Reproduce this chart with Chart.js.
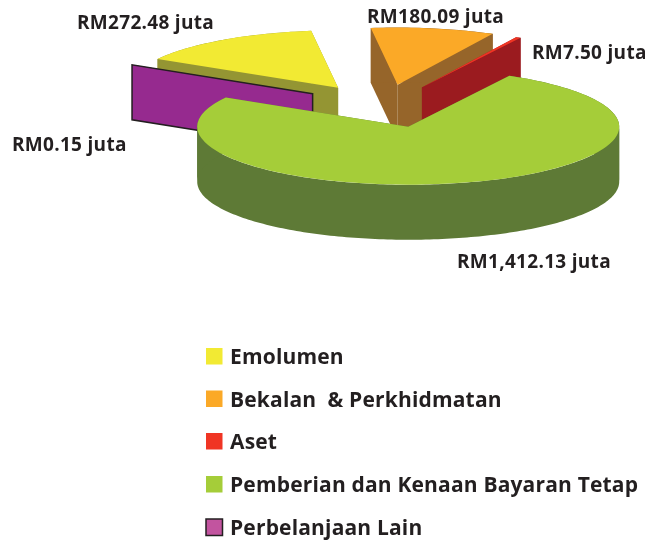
<!DOCTYPE html>
<html><head><meta charset="utf-8">
<script src="https://cdn.jsdelivr.net/npm/chart.js@4/dist/chart.umd.js"></script>
<style>html,body{margin:0;padding:0;background:#fff}canvas{display:block}</style>
</head><body>
<canvas id="c" width="645" height="545"></canvas>
<script>
const categories = ['Emolumen','Bekalan  & Perkhidmatan','Aset','Pemberian dan Kenaan Bayaran Tetap','Perbelanjaan Lain'];
const values = [272.48,180.09,7.50,1412.13,0.15];
const topColors = ['#f2ea33','#fba927','#f03524','#a5cd39','#c2549f'];
const wallColors = ['#949533','#96652a','#9b1b1f','#5e7a36','#962a8f'];
const ink = '#231f20';
const fmt = v => 'RM' + v.toLocaleString('en-US',{minimumFractionDigits:2,maximumFractionDigits:2}) + ' juta';

const squash = 0.275, depth = 55;
const explodeX = [82,82,82,92,82], explodeY = [75,75,72,82,82], sizeScale = [.99,.985,.975,1,.99];
const paintOrder = [0,1,4,2,3];
const labelAnchors = [[77,29],[367,23],[532,59],[457,268],[12,151]];

const pie3d = {
  id:'pie3d',
  beforeDatasetsDraw(chart){
    const ctx = chart.ctx, arcs = chart.getDatasetMeta(0).data;
    const quad = (p,q) => {
      ctx.beginPath();
      ctx.moveTo(p[0],p[1]); ctx.lineTo(q[0],q[1]);
      ctx.lineTo(q[0],q[1]+depth); ctx.lineTo(p[0],p[1]+depth);
      ctx.closePath(); ctx.fill();
    };
    const band = seg => {
      ctx.beginPath();
      seg.forEach((p,k)=>k?ctx.lineTo(p[0],p[1]):ctx.moveTo(p[0],p[1]));
      for (let k=seg.length-1;k>=0;k--) ctx.lineTo(seg[k][0],seg[k][1]+depth);
      ctx.closePath(); ctx.fill();
    };
    for (const i of paintOrder){
      const a = arcs[i], s = sizeScale[i], r = a.outerRadius*s;
      const mid = (a.startAngle + a.endAngle)/2;
      const ox = a.x + Math.cos(mid)*explodeX[i], oy = a.y + Math.sin(mid)*explodeY[i]*squash;
      const rim = [];
      const n = Math.max(1, Math.ceil((a.endAngle-a.startAngle)/0.02));
      for (let k=0;k<=n;k++){
        const t = a.startAngle + (a.endAngle-a.startAngle)*k/n;
        rim.push([ox+Math.cos(t)*r, oy+Math.sin(t)*r*squash]);
      }
      ctx.save();
      ctx.fillStyle = wallColors[i];
      quad([ox,oy],rim[0]);
      quad([ox,oy],rim[n]);
      // the rim band is cut wherever it turns back in x, so each piece is a simple shape
      let seg = [rim[0]], dir = 0;
      for (let k=1;k<=n;k++){
        const d = Math.sign(rim[k][0]-rim[k-1][0]);
        if (dir && d && d!==dir){ band(seg); seg=[rim[k-1]]; }
        if (d) dir = d;
        seg.push(rim[k]);
      }
      band(seg);
      if (i===4){
        const e = rim[0];
        ctx.strokeStyle = ink; ctx.lineWidth = 1.5;
        ctx.beginPath();
        ctx.moveTo(ox,oy); ctx.lineTo(e[0],e[1]); ctx.lineTo(e[0],e[1]+depth); ctx.lineTo(ox,oy+depth);
        ctx.closePath(); ctx.stroke();
      }
      ctx.restore();
      ctx.save();
      ctx.translate(ox,oy); ctx.scale(s,squash*s); ctx.translate(-a.x,-a.y);
      a.draw(ctx);
      ctx.restore();
    }
    return false;
  },
  afterDraw(chart){
    const ctx = chart.ctx;
    ctx.save();
    ctx.textBaseline='alphabetic'; ctx.textAlign='left'; ctx.fillStyle=ink;
    ctx.font='700 19px "Open Sans"'; ctx.letterSpacing='0.3px';
    values.forEach((v,i)=>ctx.fillText(fmt(v),labelAnchors[i][0],labelAnchors[i][1]));
    const rowY=[364,406.5,449,492,535];
    categories.forEach((c,i)=>{
      const y=rowY[i];
      ctx.fillStyle=topColors[i];
      ctx.fillRect(206,y-16,16.5,16.5);
      if(i===4){ctx.strokeStyle=ink;ctx.lineWidth=1.5;ctx.strokeRect(206,y-16,16.5,16.5);}
      ctx.fillStyle=ink;
      ctx.font='700 21px "Open Sans"'; ctx.letterSpacing='0.17px';
      ctx.fillText(c,230,y);
    });
    ctx.restore();
  }
};

new Chart(document.getElementById('c'),{
  type:'pie',
  data:{labels:categories,datasets:[{data:values,backgroundColor:topColors,borderWidth:0}]},
  options:{
    responsive:false,animation:false,rotation:-59.8,radius:211,
    layout:{padding:{left:122,right:0,top:0,bottom:335}},
    plugins:{legend:{display:false},tooltip:{enabled:false}}
  },
  plugins:[pie3d]
});
</script>
</body></html>
